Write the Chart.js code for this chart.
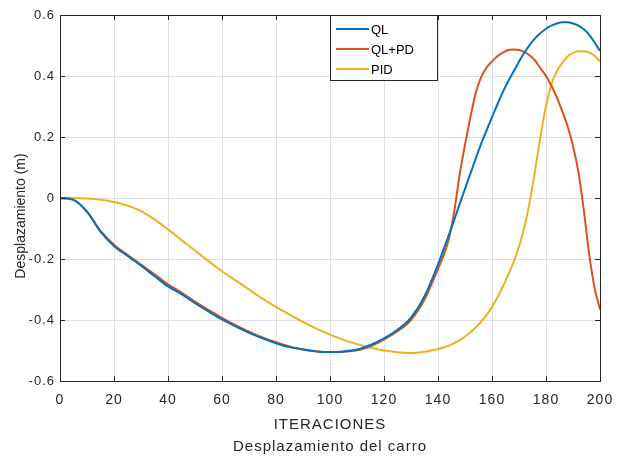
<!DOCTYPE html>
<html>
<head>
<meta charset="utf-8">
<script src="https://cdn.jsdelivr.net/npm/chart.js@4"></script>
<style>
  html, body { margin: 0; padding: 0; background: #fff; }
  #wrap { width: 617px; height: 460px; position: relative; }
</style>
</head>
<body>
<div id="wrap"><canvas id="chart"></canvas></div>
<script>
// Desplazamiento del carro - QL vs QL+PD vs PID

const iterations = [0, 5, 10, 15, 20, 25, 30, 35, 40, 45, 50, 55, 60, 65, 70, 75, 80, 85, 90, 95,
    100, 105, 110, 115, 120, 125, 130, 135, 140, 142, 144, 146, 148, 150, 152, 154, 156, 158,
    160, 162, 164, 166, 168, 170, 172, 174, 176, 178, 180, 182, 184, 186, 188, 190, 192, 194,
    196, 198, 200];

const qlValues = [0, -0.006, -0.045, -0.11, -0.157, -0.19, -0.222, -0.256, -0.29, -0.315,
    -0.345, -0.372, -0.398, -0.421, -0.442, -0.46, -0.476, -0.489, -0.497, -0.503,
    -0.505, -0.503, -0.497, -0.482, -0.46, -0.432, -0.392, -0.322, -0.218, -0.17, -0.122,
    -0.072, -0.02, 0.03, 0.08, 0.13, 0.178, 0.222, 0.265, 0.307, 0.347, 0.383, 0.415, 0.447,
    0.477, 0.502, 0.524, 0.541, 0.555, 0.565, 0.572, 0.576, 0.576, 0.572, 0.565, 0.553,
    0.535, 0.51, 0.482];

const qlpdValues = [0, -0.006, -0.045, -0.108, -0.153, -0.186, -0.218, -0.25, -0.283, -0.31,
    -0.34, -0.367, -0.393, -0.417, -0.438, -0.457, -0.473, -0.487, -0.496, -0.503,
    -0.505, -0.504, -0.499, -0.486, -0.464, -0.437, -0.4, -0.333, -0.232, -0.19, -0.135,
    -0.045, 0.075, 0.175, 0.265, 0.345, 0.397, 0.428, 0.448, 0.465, 0.477, 0.485, 0.487, 0.485,
    0.478, 0.467, 0.45, 0.425, 0.4, 0.368, 0.33, 0.285, 0.235, 0.17, 0.085, -0.04,
    -0.185, -0.295, -0.366];

const pidValues = [0, 0, -0.002, -0.006, -0.013, -0.025, -0.043, -0.07, -0.103, -0.138,
    -0.172, -0.207, -0.24, -0.27, -0.3, -0.33, -0.357, -0.382, -0.406, -0.428,
    -0.448, -0.465, -0.479, -0.491, -0.5, -0.506, -0.508, -0.504, -0.495, -0.49, -0.484,
    -0.476, -0.466, -0.454, -0.44, -0.424, -0.405, -0.383, -0.357, -0.326, -0.291, -0.252,
    -0.21, -0.16, -0.095, -0.012, 0.093, 0.205, 0.302, 0.372, 0.415, 0.443, 0.464, 0.476,
    0.481, 0.481, 0.477, 0.466, 0.448];

const seriesLabels = ['QL', 'QL+PD', 'PID'];
const seriesColors = ['#0072BD', '#D95319', '#EDB120'];
const xTitle = ['ITERACIONES', 'Desplazamiento del carro'];
const yTitle = 'Desplazamiento (m)';

const axisColor = '#262626';
const fontFamily = '"Liberation Sans", Arial, sans-serif';

function toPoints(values) {
    return iterations.map((x, i) => ({ x: x, y: values[i] }));
}

// letter spacing like the exported MATLAB figure
const spacingPlugin = {
    id: 'spacing',
    beforeDraw(chart) { chart.ctx.letterSpacing = '1px'; },
    afterDraw(chart) { chart.ctx.letterSpacing = '0px'; }
};

// box around axes with inward ticks, y label and legend
const matlabAxes = {
    id: 'matlabAxes',
    afterDraw(chart) {
        const ctx = chart.ctx;
        const { left, right, top, bottom } = chart.chartArea;
        const xs = chart.scales.x, ys = chart.scales.y;
        const tl = 5;
        ctx.save();
        ctx.letterSpacing = '0px';
        ctx.strokeStyle = axisColor;
        ctx.lineWidth = 1;
        ctx.beginPath();
        xs.ticks.forEach(t => {
            const px = Math.round(xs.getPixelForValue(t.value)) + 0.5;
            ctx.moveTo(px, bottom); ctx.lineTo(px, bottom - tl);
            ctx.moveTo(px, top); ctx.lineTo(px, top + tl);
        });
        ys.ticks.forEach(t => {
            const py = Math.round(ys.getPixelForValue(t.value)) + 0.5;
            ctx.moveTo(left, py); ctx.lineTo(left + tl, py);
            ctx.moveTo(right, py); ctx.lineTo(right - tl, py);
        });
        ctx.stroke();
        ctx.strokeRect(Math.round(left) + 0.5, Math.round(top) + 0.5,
            Math.round(right - left), Math.round(bottom - top));

        // y axis title
        ctx.fillStyle = axisColor;
        ctx.font = '14px ' + fontFamily;
        ctx.textAlign = 'center';
        ctx.textBaseline = 'middle';
        ctx.translate(21, 216);
        ctx.rotate(-Math.PI / 2);
        ctx.fillText(yTitle, 0, 0);
        ctx.setTransform(1, 0, 0, 1, 0, 0);

        // legend
        const lx = 330, ly = 15, lw = 107, lh = 65;
        ctx.fillStyle = '#fff';
        ctx.fillRect(lx, ly, lw, lh);
        ctx.strokeStyle = axisColor;
        ctx.strokeRect(lx + 0.5, ly + 0.5, lw, lh);
        ctx.font = '13px ' + fontFamily;
        ctx.textAlign = 'left';
        chart.data.datasets.forEach((ds, i) => {
            const y = 29 + i * 20;
            ctx.strokeStyle = ds.borderColor;
            ctx.lineWidth = 2;
            ctx.beginPath();
            ctx.moveTo(336, y); ctx.lineTo(369, y);
            ctx.stroke();
            ctx.fillStyle = '#000';
            ctx.fillText(ds.label, 371, y + 1);
        });
        ctx.restore();
    }
};

new Chart(document.getElementById('chart'), {
    type: 'line',
    data: {
        datasets: [
            { label: seriesLabels[0], data: toPoints(qlValues), borderColor: seriesColors[0] },
            { label: seriesLabels[1], data: toPoints(qlpdValues), borderColor: seriesColors[1] },
            { label: seriesLabels[2], data: toPoints(pidValues), borderColor: seriesColors[2] }
        ]
    },
    options: {
        responsive: true,
        maintainAspectRatio: false,
        animation: false,
        layout: { padding: { left: 0, top: 15, right: 17, bottom: 0 } },
        elements: {
            point: { radius: 0 },
            line: { borderWidth: 2, cubicInterpolationMode: 'monotone', fill: false }
        },
        plugins: {
            legend: { display: false },
            tooltip: { enabled: false }
        },
        scales: {
            x: {
                type: 'linear',
                min: 0,
                max: 200,
                afterFit(scale) {
                    scale.height = 79;
                    scale.paddingLeft = 0;
                    scale.paddingRight = 0;
                },
                border: { display: false },
                grid: { color: '#dfdfdf', drawTicks: false },
                ticks: {
                    stepSize: 20,
                    padding: 11,
                    color: axisColor,
                    maxRotation: 0,
                    font: { family: fontFamily, size: 14 }
                },
                title: {
                    display: true,
                    text: xTitle,
                    color: axisColor,
                    padding: { top: 0, bottom: 1.5 },
                    font: { family: fontFamily, size: 15, lineHeight: 1.5 }
                }
            },
            y: {
                min: -0.6,
                max: 0.6,
                afterFit(scale) {
                    scale.width = 60;
                    scale.paddingTop = 0;
                    scale.paddingBottom = 0;
                },
                border: { display: false },
                grid: { color: '#dfdfdf', drawTicks: false },
                ticks: {
                    stepSize: 0.2,
                    padding: 5,
                    color: axisColor,
                    font: { family: fontFamily, size: 13 },
                    callback: v => String(Math.round(v * 10) / 10)
                }
            }
        }
    },
    plugins: [spacingPlugin, matlabAxes]
});
</script>
</body>
</html>
